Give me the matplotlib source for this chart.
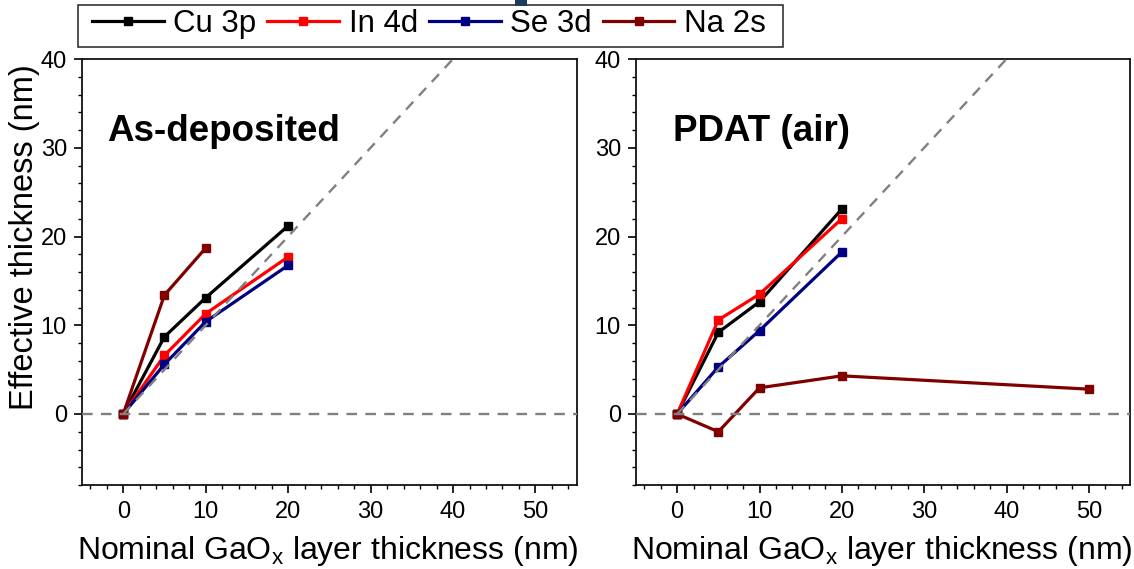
import matplotlib
matplotlib.use("Agg")
import matplotlib.pyplot as plt
from matplotlib.patches import Rectangle

plt.rcParams['font.family'] = ['Liberation Sans', 'DejaVu Sans']
plt.rcParams['mathtext.fontset'] = 'custom'
plt.rcParams['mathtext.rm'] = 'Liberation Sans'
plt.rcParams['mathtext.it'] = 'Liberation Sans:italic'

# ---- data ----
series_names = ["Cu 3p", "In 4d", "Se 3d", "Na 2s"]
series_colors = ["#000000", "#ff0000", "#000080", "#800000"]

asdep_x = [0, 5, 10, 20]
asdep_cu = [0, 8.7, 13.1, 21.2]
asdep_in = [0, 6.6, 11.3, 17.7]
asdep_se = [0, 5.6, 10.4, 16.75]
asdep_na_x = [0, 5, 10]
asdep_na = [0, 13.4, 18.7]

pdat_x = [0, 5, 10, 20]
pdat_cu = [0, 9.2, 12.65, 23.1]
pdat_in = [0, 10.6, 13.5, 22.0]
pdat_se = [0, 5.3, 9.4, 18.25]
pdat_na_x = [0, 5, 10, 20, 50]
pdat_na = [0, -2.0, 2.95, 4.3, 2.8]

panel_titles = ["As-deposited", "PDAT (air)"]
xticks = [0, 10, 20, 30, 40, 50]
yticks = [0, 10, 20, 30, 40]
diag = [0, 55]

W, H = 1134, 569
fig = plt.figure(figsize=(W / 100, H / 100), dpi=100)

def fx(px):
    return px / W

def fy(py):
    return 1 - py / H

axL = fig.add_axes([fx(82), fy(485), fx(576.7) - fx(82), fy(59) - fy(485)])
axR = fig.add_axes([fx(636), fy(485), fx(1130) - fx(636), fy(59) - fy(485)])

panels = [
    (axL, [(asdep_x, asdep_cu), (asdep_x, asdep_in), (asdep_x, asdep_se), (asdep_na_x, asdep_na)]),
    (axR, [(pdat_x, pdat_cu), (pdat_x, pdat_in), (pdat_x, pdat_se), (pdat_na_x, pdat_na)]),
]

handles = []
for i, (ax, data) in enumerate(panels):
    for (xs, ys), name, c in zip(data, series_names, series_colors):
        h, = ax.plot(xs, ys, color=c, lw=2.3, marker='s', ms=6.2, mec=c, mfc=c,
                     label=name, zorder=3, clip_on=False)
        if i == 0:
            handles.append(h)
    ax.axhline(0, color='#808080', lw=1.7, ls=(0, (4.5, 3.5)), zorder=4)
    ax.plot(diag, diag, color='#808080', lw=1.7, ls=(0, (4.5, 3.5)), zorder=4)
    ax.set_xlim(-5, 55)
    ax.set_ylim(-8, 40)
    ax.set_xticks(xticks)
    ax.set_yticks(yticks)
    ax.set_xticks(range(-4, 55, 2), minor=True)
    ax.set_yticks(range(-8, 41, 2), minor=True)
    ax.tick_params(which='major', direction='out', length=5.8, width=1.2, labelsize=17,
                   top=False, right=False)
    ax.tick_params(axis='x', which='major', pad=6)
    ax.tick_params(axis='y', which='major', pad=5)
    ax.tick_params(which='minor', direction='out', length=3, width=1.0, top=False, right=False)
    for sp in ax.spines.values():
        sp.set_linewidth(1.3)
        sp.set_color('#111111')
    ax.set_xlabel(r'Nominal GaO$_\mathregular{x}$ layer thickness (nm)', fontsize=23)
    ax.xaxis.set_label_coords(0.497, -0.115)
    ax.text(0.05 if i == 0 else 0.075, 0.807, panel_titles[i], transform=ax.transAxes,
            fontsize=26.5, fontweight='bold', ha='left', va='baseline')

axL.set_ylabel('Effective thickness (nm)', fontsize=23.5)
axL.yaxis.set_label_coords(-0.085, 0.583)

# legend
fig.patches.append(Rectangle((fx(78), fy(47)), fx(783) - fx(78), fy(5) - fy(47),
                             transform=fig.transFigure, fill=False, ec='#333333', lw=1.2))
fig.legend(handles=handles, loc='upper left', bbox_to_anchor=(fx(92), fy(9)),
           ncol=4, frameon=False, fontsize=22.5, borderpad=0, borderaxespad=0,
           handlelength=2.3, handletextpad=0.3, columnspacing=0.35, numpoints=1)

# small artifact at top
fig.patches.append(Rectangle((fx(515), fy(6)), fx(527) - fx(515), fy(0) - fy(6),
                             transform=fig.transFigure, fill=True, fc='#1f3a5f', ec='none'))

fig.savefig('out.png', dpi=100)
